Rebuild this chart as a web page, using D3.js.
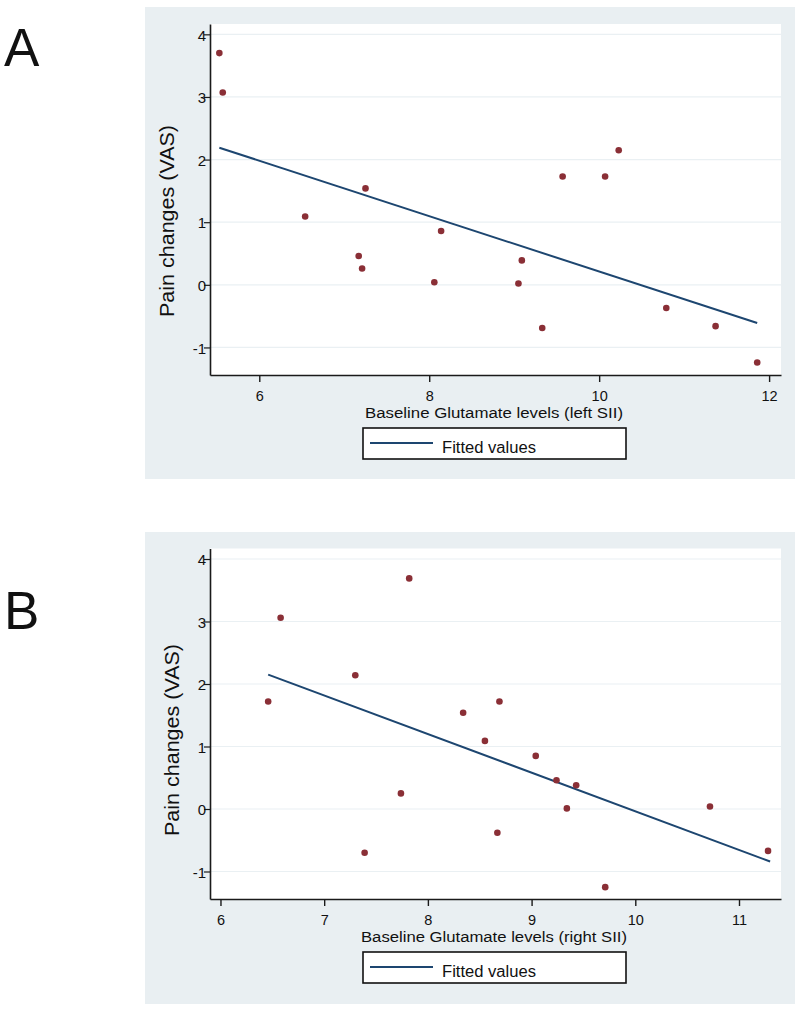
<!DOCTYPE html>
<html>
<head>
<meta charset="utf-8">
<script src="https://cdn.jsdelivr.net/npm/d3@7"></script>
<style>
  html, body { margin: 0; padding: 0; background: #ffffff; }
  svg { display: block; }
  text { font-family: "Liberation Sans", Arial, Helvetica, sans-serif; fill: #111; }
</style>
</head>
<body>
<script>
// ---------------- Data ----------------
// Panel A : left SII
const glutLeft = [5.53, 5.57, 6.54, 7.17, 7.21, 7.25, 8.06, 8.14, 9.05, 9.09, 9.33, 9.57, 10.07, 10.23, 10.79, 11.37, 11.86];
const painLeft = [3.70, 3.07, 1.09, 0.46, 0.26, 1.54, 0.04, 0.86, 0.02, 0.39, -0.69, 1.73, 1.73, 2.15, -0.37, -0.66, -1.24];
const fitLeftX = [5.53, 11.86];
const fitLeftY = [2.19, -0.61];
const xTicksLeft = [6, 8, 10, 12];

// Panel B : right SII
const glutRight = [6.46, 6.58, 7.30, 7.39, 7.74, 7.82, 8.34, 8.55, 8.67, 8.69, 9.04, 9.24, 9.34, 9.43, 9.71, 10.72, 11.28];
const painRight = [1.72, 3.06, 2.14, -0.70, 0.25, 3.69, 1.54, 1.09, -0.38, 1.72, 0.85, 0.46, 0.01, 0.38, -1.25, 0.04, -0.67];
const fitRightX = [6.46, 11.30];
const fitRightY = [2.15, -0.84];
const xTicksRight = [6, 7, 8, 9, 10, 11];

const yTicks = [-1, 0, 1, 2, 3, 4];
const panelLetters = ["A", "B"];
const xTitles = ["Baseline Glutamate levels (left SII)", "Baseline Glutamate levels (right SII)"];
const yTitle = "Pain changes (VAS)";
const legendLabel = "Fitted values";

// ---------------- Drawing ----------------
const W = 800, H = 1013;
const svg = d3.select("body").append("svg").attr("width", W).attr("height", H);

const BG = "#e9eff2";
const GRID = "#eaf0f3";
const DOT = "#8a2f36";
const LINE = "#1d4670";
const fmt = d => String(d);

function drawPanel(p) {
  const g = svg.append("g");
  // outer graph region
  g.append("rect").attr("x", 145).attr("y", p.bgTop).attr("width", 650).attr("height", 472).attr("fill", BG);

  const x = d3.scaleLinear().domain(p.xDomain).range([210, 781]);
  const y = d3.scaleLinear().domain(p.yDomain).range([p.bottom, p.top]);

  // plot region
  g.append("rect").attr("x", 210).attr("y", p.top).attr("width", 571).attr("height", p.bottom - p.top).attr("fill", "#ffffff");

  // gridlines
  g.append("g").selectAll("line").data(yTicks).join("line")
    .attr("x1", 210).attr("x2", 781)
    .attr("y1", d => y(d)).attr("y2", d => y(d))
    .attr("stroke", GRID).attr("stroke-width", 1.2);

  // fitted line
  const fitPts = p.fitX.map((v, i) => [v, p.fitY[i]]);
  g.append("path").datum(fitPts)
    .attr("d", d3.line().x(d => x(d[0])).y(d => y(d[1])))
    .attr("fill", "none").attr("stroke", LINE).attr("stroke-width", 2);

  // points
  const pts = p.xs.map((v, i) => [v, p.ys[i]]);
  g.append("g").selectAll("circle").data(pts).join("circle")
    .attr("cx", d => x(d[0])).attr("cy", d => y(d[1])).attr("r", 3.3)
    .attr("fill", DOT);

  // axes
  const yAxis = d3.axisLeft(y).tickValues(yTicks).tickSize(6).tickSizeOuter(0).tickPadding(-2)
    .tickFormat(fmt);
  const ya = g.append("g").attr("transform", "translate(210,0)").call(yAxis);
  ya.select(".domain").attr("stroke", "#1a1a1a").attr("stroke-width", 1.6);
  ya.selectAll(".tick line").attr("stroke", "#1a1a1a").attr("stroke-width", 1.2);
  ya.selectAll(".tick text").attr("font-size", 15).attr("fill", "#111")
    .attr("font-family", "'Liberation Sans Narrow', 'Liberation Sans', Arial, sans-serif")
    .attr("dy", "0.38em");

  const xAxis = d3.axisBottom(x).tickValues(p.xTicks).tickSize(7).tickSizeOuter(0).tickPadding(9)
    .tickFormat(fmt);
  const xa = g.append("g").attr("transform", `translate(0,${p.bottom})`).call(xAxis);
  xa.select(".domain").attr("stroke", "#1a1a1a").attr("stroke-width", 1.6);
  xa.selectAll(".tick line").attr("stroke", "#1a1a1a").attr("stroke-width", 1.4);
  xa.selectAll(".tick text").attr("font-size", 14.5).attr("fill", "#111");

  // x title
  g.append("text").attr("x", 494).attr("y", p.bottom + 42.5)
    .attr("text-anchor", "middle").attr("font-size", 15.5)
    .attr("textLength", p.xTitleLen).attr("lengthAdjust", "spacingAndGlyphs")
    .text(p.xTitle);

  // y title
  g.append("text")
    .attr("transform", `translate(${p.yTitleX},${p.yTitleY}) rotate(-90)`)
    .attr("text-anchor", "middle").attr("font-size", 21)
    .attr("textLength", 192).attr("lengthAdjust", "spacingAndGlyphs")
    .text(yTitle);

  // legend
  const lt = p.bottom + 53;
  g.append("rect").attr("x", 363).attr("y", lt).attr("width", 263).attr("height", 31)
    .attr("fill", "#ffffff").attr("stroke", "#111").attr("stroke-width", 1.6);
  g.append("line").attr("x1", 370).attr("x2", 433).attr("y1", lt + 15).attr("y2", lt + 15)
    .attr("stroke", LINE).attr("stroke-width", 1.8);
  g.append("text").attr("x", 442).attr("y", lt + 24.5).attr("font-size", 16)
    .attr("textLength", 94).attr("lengthAdjust", "spacingAndGlyphs")
    .text(legendLabel);

  // panel letter
  svg.append("text").attr("x", 4).attr("y", p.letterY).attr("font-size", 53)
    .attr("fill", "#000").text(p.letter);
}

drawPanel({
  bgTop: 7, top: 24, bottom: 375,
  xDomain: [5.42, 12.14], yDomain: [-1.44, 4.165],
  xs: glutLeft, ys: painLeft, fitX: fitLeftX, fitY: fitLeftY,
  xTicks: xTicksLeft, xTitle: xTitles[0], xTitleLen: 258,
  yTitleX: 174, yTitleY: 221, letter: panelLetters[0], letterY: 66
});

drawPanel({
  bgTop: 532, top: 548.5, bottom: 899,
  xDomain: [5.899, 11.405], yDomain: [-1.44, 4.168],
  xs: glutRight, ys: painRight, fitX: fitRightX, fitY: fitRightY,
  xTicks: xTicksRight, xTitle: xTitles[1], xTitleLen: 266,
  yTitleX: 179, yTitleY: 740, letter: panelLetters[1], letterY: 629
});
</script>
</body>
</html>
